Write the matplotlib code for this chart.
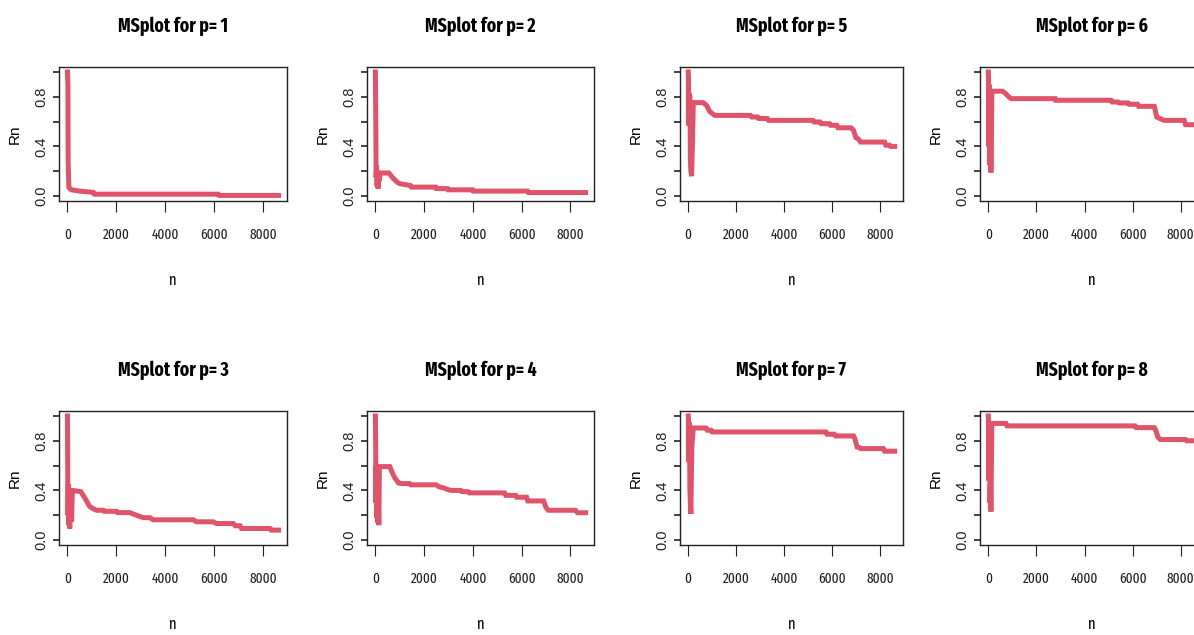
import numpy as np
import matplotlib.pyplot as plt
from matplotlib import font_manager as fm
from matplotlib.textpath import TextPath

# running Rn statistic for each p, (n, Rn) breakpoints
n1 = [1, 20, 30, 40, 60, 100, 160, 500, 1050, 1100, 6150, 6200, 8620]
r1 = [1.0, 0.9, 0.28, 0.2, 0.07, 0.06, 0.05, 0.04, 0.03, 0.015, 0.015, 0.005, 0.005]

n2 = [1, 20, 30, 50, 70, 90, 110, 130, 150, 200, 550, 700, 900, 1030, 1440, 1480, 2470,
      2500, 2950, 2980, 3980, 4020, 6240, 6280, 8620]
r2 = [1.0, 0.5, 0.15, 0.25, 0.08, 0.2, 0.06, 0.15, 0.12, 0.186, 0.186, 0.15, 0.11, 0.098,
      0.085, 0.072, 0.072, 0.06, 0.06, 0.05, 0.05, 0.04, 0.04, 0.028, 0.028]

n3 = [1, 15, 25, 40, 60, 80, 95, 120, 136, 170, 200, 545, 710, 910, 1050, 1190, 1460,
      1500, 2000, 2050, 2550, 2820, 3100, 3370, 3500, 5140, 5270, 5950, 6090, 6770,
      6850, 7050, 7110, 8270, 8320, 8620]
r3 = [1.0, 0.47, 0.2, 0.45, 0.12, 0.35, 0.093, 0.3, 0.34, 0.15, 0.4, 0.39, 0.34, 0.27,
      0.253, 0.24, 0.24, 0.232, 0.232, 0.221, 0.221, 0.2, 0.18, 0.18, 0.163, 0.163, 0.147,
      0.147, 0.133, 0.133, 0.115, 0.115, 0.093, 0.093, 0.08, 0.08]

n4 = [1, 15, 25, 40, 60, 80, 100, 120, 140, 165, 590, 700, 800, 950, 1050, 1400, 1450,
      2500, 2600, 2800, 3000, 3100, 3500, 3550, 3800, 3850, 5300, 5350, 5750, 5800,
      6200, 6250, 6900, 7000, 7100, 8200, 8300, 8620]
r4 = [1.0, 0.68, 0.3, 0.6, 0.18, 0.5, 0.14, 0.4, 0.12, 0.592, 0.592, 0.54, 0.5, 0.46,
      0.455, 0.455, 0.445, 0.445, 0.43, 0.42, 0.405, 0.4, 0.4, 0.39, 0.39, 0.38, 0.38,
      0.36, 0.36, 0.345, 0.345, 0.315, 0.315, 0.26, 0.24, 0.24, 0.22, 0.22]

n5 = [1, 10, 20, 40, 70, 90, 110, 140, 180, 210, 625, 765, 900, 1110, 2600, 2650, 2900,
      2950, 3300, 3350, 5200, 5250, 5500, 5550, 5900, 5950, 6200, 6250, 6800, 6900,
      7000, 7100, 7200, 8200, 8250, 8400, 8450, 8620]
r5 = [1.0, 0.95, 0.57, 0.83, 0.8, 0.3, 0.2, 0.16, 0.45, 0.753, 0.753, 0.73, 0.68, 0.65,
      0.65, 0.637, 0.637, 0.625, 0.625, 0.61, 0.61, 0.597, 0.597, 0.583, 0.583, 0.57,
      0.57, 0.55, 0.55, 0.53, 0.47, 0.46, 0.435, 0.435, 0.41, 0.41, 0.4, 0.4]

n6 = [1, 10, 20, 30, 50, 70, 90, 110, 130, 150, 590, 700, 850, 950, 2780, 2800, 5100,
      5150, 5400, 5450, 5800, 5850, 6200, 6250, 6900, 7000, 7300, 8140, 8200, 8620]
r6 = [1.0, 0.95, 0.4, 0.9, 0.6, 0.25, 0.5, 0.19, 0.45, 0.845, 0.845, 0.83, 0.8, 0.785,
      0.785, 0.772, 0.772, 0.758, 0.758, 0.75, 0.75, 0.74, 0.74, 0.723, 0.723, 0.637,
      0.61, 0.61, 0.575, 0.575]

n7 = [1, 10, 20, 30, 50, 70, 90, 110, 130, 150, 210, 740, 800, 950, 1000, 5750, 5800,
      6100, 6150, 6900, 6950, 7050, 7150, 7200, 8150, 8200, 8620]
r7 = [1.0, 0.97, 0.63, 0.95, 0.9, 0.4, 0.3, 0.21, 0.5, 0.75, 0.903, 0.903, 0.885, 0.885,
      0.871, 0.871, 0.853, 0.853, 0.839, 0.839, 0.82, 0.75, 0.745, 0.737, 0.737, 0.716,
      0.716]

n8 = [1, 10, 20, 30, 50, 70, 90, 110, 130, 150, 730, 780, 6100, 6150, 6900, 6950, 7050,
      7150, 8200, 8250, 8620]
r8 = [1.0, 0.97, 0.48, 0.95, 0.9, 0.3, 0.45, 0.23, 0.6, 0.94, 0.94, 0.92, 0.92, 0.906,
      0.906, 0.89, 0.83, 0.81, 0.81, 0.8, 0.8]

series = {1: (n1, r1), 2: (n2, r2), 3: (n3, r3), 4: (n4, r4),
          5: (n5, r5), 6: (n6, r6), 7: (n7, r7), 8: (n8, r8)}

x_ticks = [0, 2000, 4000, 6000, 8000]
y_ticks = [0.0, 0.2, 0.4, 0.6, 0.8, 1.0]
y_labels = ["0.0", "", "0.4", "", "0.8", ""]

W, H = 1194, 635
# plot boxes in pixels: left, top, right, bottom
boxes = {1: (59, 67, 287, 201), 2: (367, 67, 594, 201),
         5: (680, 67, 903, 201), 6: (980, 67, 1204, 201),
         3: (59, 411, 287, 545), 4: (367, 411, 594, 545),
         7: (680, 411, 903, 545), 8: (980, 411, 1204, 545)}

STRETCH = {"ultra-condensed": 100, "extra-condensed": 200, "condensed": 300,
           "semi-condensed": 400}


def condensed_font(weight):
    # narrowest upright face available near the given weight
    cands = []
    for f in fm.fontManager.ttflist:
        st = f.stretch if isinstance(f.stretch, int) else STRETCH.get(f.stretch, 500)
        if "ExtraCondensed" in f.fname:
            st = min(st, 200)
        elif "SemiCondensed" in f.fname:
            st = min(st, 400)
        elif "Condensed" in f.fname or "Narrow" in f.fname:
            st = min(st, 300)
        if st >= 500 or "Italic" in f.fname or "Oblique" in f.fname:
            continue
        w = f.weight if isinstance(f.weight, int) else {"bold": 700, "normal": 400}.get(f.weight, 400)
        for tag, tw in (("Light", 300), ("Thin", 100), ("Medium", 500), ("SemiBold", 600),
                        ("ExtraBold", 800), ("Black", 900)):
            if tag in f.fname.split("/")[-1]:
                w = tw
        cands.append((abs(w - weight), st, f.fname))
    if cands:
        return fm.FontProperties(fname=sorted(cands)[0][2])
    return fm.FontProperties(family="Liberation Sans",
                             weight="bold" if weight >= 600 else "normal")


def size_for_width(prop, s, px):
    # font size (pt) whose ink width for s is px pixels at 100 dpi
    w = TextPath((0, 0), s, size=10, prop=prop).get_extents().width
    return 10 * px / (w * 100 / 72)


narrow = condensed_font(400)
narrow_bold = condensed_font(700)
regular = ["Liberation Sans", "DejaVu Sans"]
red = "#DF536B"

title_size = min(size_for_width(narrow_bold, "MSplot for p= 1", 108), 15)
tick_size = min(size_for_width(narrow, "2000", 26), 13)

fig = plt.figure(figsize=(W / 100, H / 100), dpi=100)

for p, (l, t, r, b) in boxes.items():
    ax = fig.add_axes([l / W, 1 - b / H, (r - l) / W, (b - t) / H])
    n, rn = series[p]
    ax.plot(n, rn, color=red, lw=3.6, solid_joinstyle="miter")

    span = n[-1] - n[0]
    ax.set_xlim(n[0] - 0.04 * span, n[-1] + 0.04 * span)
    ax.set_ylim(-0.04, 1.04)

    for s in ax.spines.values():
        s.set_linewidth(1.0)
        s.set_color("#222222")

    ax.set_xticks(x_ticks)
    ax.set_xticklabels([str(v) for v in x_ticks], fontproperties=narrow)
    for lab in ax.get_xticklabels():
        lab.set_fontsize(tick_size)
    ax.set_yticks(y_ticks)
    ax.set_yticklabels(y_labels, family=regular, fontsize=10.5,
                       rotation=90, va="center")
    ax.tick_params(axis="x", length=8, width=0.8, pad=11, colors="#222222")
    ax.tick_params(axis="y", length=4.3, width=1.2, pad=3, colors="#222222")

    title = ax.set_title(f"MSplot for p= {p}", fontproperties=narrow_bold, pad=25)
    title.set_fontsize(title_size)
    xl = ax.set_xlabel("n", fontproperties=narrow, va="bottom")
    xl.set_fontsize(tick_size * 1.1)
    ax.xaxis.set_label_coords(0.5, -87 / (b - t))
    ax.set_ylabel("Rn", family=regular, fontsize=11, va="center")
    ax.yaxis.set_label_coords(-44 / (r - l), 0.5)

fig.savefig("out.png", dpi=100)
